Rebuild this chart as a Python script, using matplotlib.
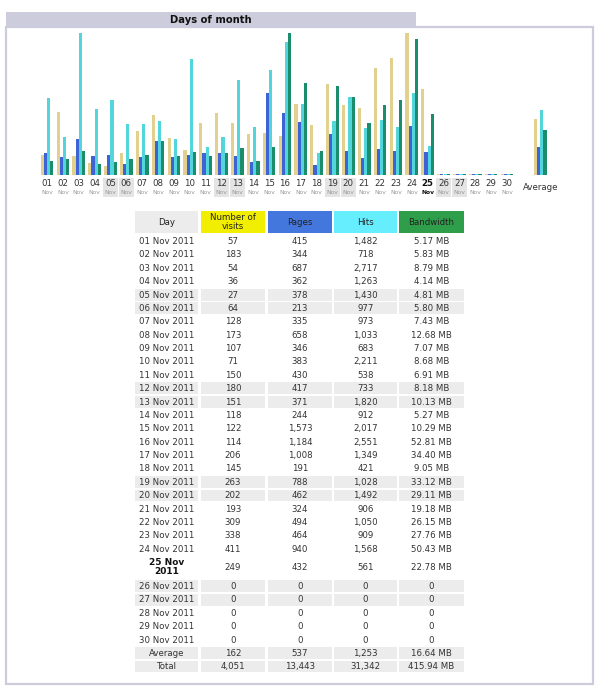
import numpy as np
import matplotlib
matplotlib.use("Agg")
import matplotlib.pyplot as plt
from matplotlib.patches import Rectangle
from matplotlib.transforms import blended_transform_factory

plt.rcParams['font.family'] = ['DejaVu Sans']

# ---------------- data ----------------
days = [f"{d:02d}" for d in range(1, 31)]
month = "Nov"
year = "2011"
weekend_days = [5, 6, 12, 13, 19, 20, 26, 27]
today = 25
visits = [57, 183, 54, 36, 27, 64, 128, 173, 107, 71, 150, 180, 151, 118, 122,
          114, 206, 145, 263, 202, 193, 309, 338, 411, 249, 0, 0, 0, 0, 0]
pages = [415, 344, 687, 362, 378, 213, 335, 658, 346, 383, 430, 417, 371, 244, 1573,
         1184, 1008, 191, 788, 462, 324, 494, 464, 940, 432, 0, 0, 0, 0, 0]
hits = [1482, 718, 2717, 1263, 1430, 977, 973, 1033, 683, 2211, 538, 733, 1820, 912, 2017,
        2551, 1349, 421, 1028, 1492, 906, 1050, 909, 1568, 561, 0, 0, 0, 0, 0]
bandwidth = [5.17, 5.83, 8.79, 4.14, 4.81, 5.80, 7.43, 12.68, 7.07, 8.68, 6.91, 8.18, 10.13,
             5.27, 10.29, 52.81, 34.40, 9.05, 33.12, 29.11, 19.18, 26.15, 27.76, 50.43,
             22.78, 0, 0, 0, 0, 0]
average = [162, 537, 1253, 16.64]
total = [4051, 13443, 31342, 415.94]

headers = ["Day", "Number of\nvisits", "Pages", "Hits", "Bandwidth"]
title = "Days of month"

# ---------------- colours ----------------
c_visits_bar = "#e2d08e"
c_pages_bar = "#3d63d4"
c_hits_bar = "#52d6dc"
c_bw_bar = "#1c8d6c"
c_head = ["#ececec", "#f2ee00", "#4477dd", "#66eeff", "#2e9e4a"]
c_frame = "#ccccdd"
c_gray = "#ececec"
c_text = "#333333"

fig = plt.figure(figsize=(6, 6.87), dpi=100)
bg = fig.add_axes([0, 0, 1, 1])
bg.set_xlim(0, 600)
bg.set_ylim(687, 0)
bg.axis('off')

# title bar and frame
bg.add_patch(Rectangle((6, 12), 410, 15, facecolor=c_frame, edgecolor='none'))
bg.text(211, 19.8, title, ha='center', va='center', fontsize=7.2, fontweight='bold', color='#111111')
bg.add_patch(Rectangle((6, 27), 587, 657, facecolor='none', edgecolor=c_frame, linewidth=1.6))

# ---------------- bar chart ----------------
W, H = 600, 687
step = 15.86
x0_pix = 47 - step
ax = fig.add_axes([x0_pix / W, (H - 175) / H, 35 * step / W, 142 / H])
ax.set_xlim(0, 35)
ax.set_ylim(0, 1)
ax.axis('off')

v = np.array(visits, float)
p = np.array(pages, float)
h = np.array(hits, float)
b = np.array(bandwidth, float)
mv, mh, mb = v.max(), h.max(), b.max()
minh = 1.0 / 142
x = np.arange(1, 31)
bw = 0.2
ax.bar(x - 0.3, np.maximum(v / mv, minh), bw, color=c_visits_bar, linewidth=0)
ax.bar(x - 0.1, np.maximum(p / mh, minh), bw, color=c_pages_bar, linewidth=0)
ax.bar(x + 0.1, np.maximum(h / mh, minh), bw, color=c_hits_bar, linewidth=0)
ax.bar(x + 0.3, np.maximum(b / mb, minh), bw, color=c_bw_bar, linewidth=0)
xa = 32.1
ax.bar(xa - 0.3, average[0] / mv, bw, color=c_visits_bar, linewidth=0)
ax.bar(xa - 0.1, average[1] / mh, bw, color=c_pages_bar, linewidth=0)
ax.bar(xa + 0.1, average[2] / mh, bw, color=c_hits_bar, linewidth=0)
ax.bar(xa + 0.3, average[3] / mb, bw, color=c_bw_bar, linewidth=0)

tr = blended_transform_factory(ax.transData, ax.transAxes)
for i, d in enumerate(days):
    dn = i + 1
    if dn in weekend_days:
        ax.add_patch(Rectangle((dn - 0.48, -0.155), 0.96, 0.135, transform=tr,
                               facecolor='#e4e4e4', edgecolor='none', clip_on=False))
    bold = (dn == today)
    ax.text(dn, -0.063, d, transform=tr, ha='center', va='center', fontsize=6.2,
            color='#111111' if bold else c_text, fontweight='bold' if bold else 'normal', clip_on=False)
    ax.text(dn, -0.122, month, transform=tr, ha='center', va='center', fontsize=4.3,
            color='#111111' if bold else '#999999', fontweight='bold' if bold else 'normal', clip_on=False)
ax.text(xa, -0.09, "Average", transform=tr, ha='center', va='center', fontsize=6.2,
        color=c_text, clip_on=False)

# ---------------- table ----------------
col_l = [135, 201, 268, 334, 399]
col_r = [198, 265, 332, 397, 464]
col_c = [(a + b_) / 2 for a, b_ in zip(col_l, col_r)]
fs = 6.2

# header
for j in range(5):
    bg.add_patch(Rectangle((col_l[j], 211), col_r[j] - col_l[j], 22, facecolor=c_head[j], edgecolor='none'))
    bg.text(col_c[j], 222.3, headers[j], ha='center', va='center', fontsize=fs,
            color='#222222', linespacing=0.95)


def fmt_int(n):
    return f"{int(n):,}"


def fmt_bw(n):
    return "0" if n == 0 else f"{n:.2f} MB"


rows = []
for i, d in enumerate(days):
    dn = i + 1
    rows.append(dict(label=f"{d} {month} {year}", vals=[fmt_int(visits[i]), fmt_int(pages[i]),
                     fmt_int(hits[i]), fmt_bw(bandwidth[i])], gray=dn in weekend_days, today=dn == today))
rows.append(dict(label="Average", vals=[fmt_int(average[0]), fmt_int(average[1]), fmt_int(average[2]),
                 fmt_bw(average[3])], gray=True, today=False))
rows.append(dict(label="Total", vals=[fmt_int(total[0]), fmt_int(total[1]), fmt_int(total[2]),
                 fmt_bw(total[3])], gray=True, today=False))

rh = 13.38
y = 234.5
for r in rows:
    hgt = 24.0 if r['today'] else rh
    cy = y + hgt / 2
    if r['gray']:
        for j in range(5):
            bg.add_patch(Rectangle((col_l[j], y + 0.8), col_r[j] - col_l[j], hgt - 1.6,
                                   facecolor=c_gray, edgecolor='none'))
    if r['today']:
        bg.text(col_c[0], cy - 0.3, f"{r['label'][:6]}\n{year}", ha='center', va='center',
                fontsize=fs + 0.3, fontweight='bold', color='#111111', linespacing=0.95)
    else:
        bg.text(col_c[0], cy + 0.3, r['label'], ha='center', va='center', fontsize=fs, color=c_text)
    for j, s in enumerate(r['vals']):
        bg.text(col_c[j + 1], cy + 0.3, s, ha='center', va='center', fontsize=fs, color=c_text)
    y += hgt

fig.savefig("out.png", dpi=100)
